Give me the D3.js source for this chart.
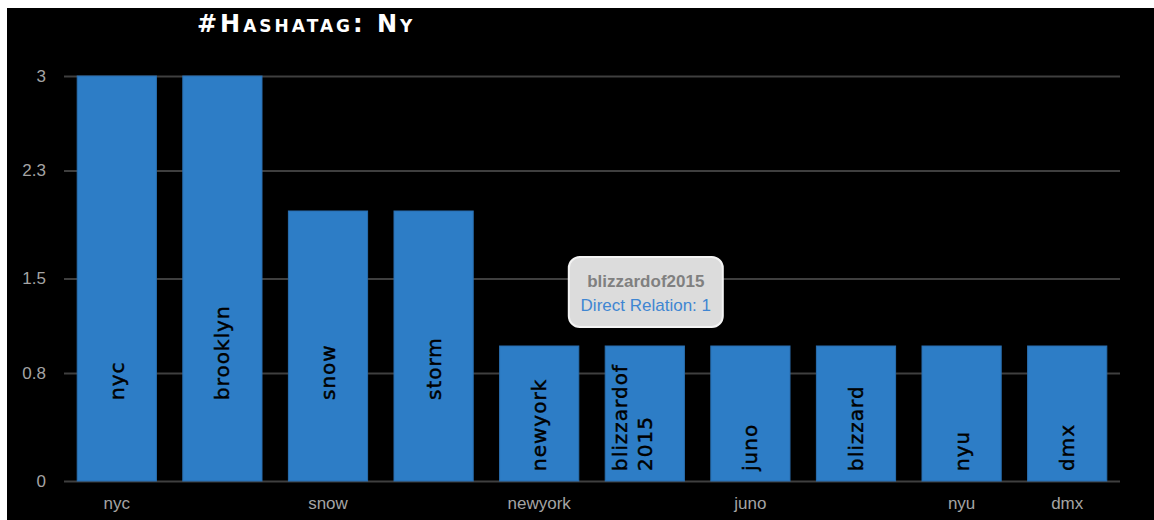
<!DOCTYPE html>
<html>
<head>
<meta charset="utf-8">
<script src="https://cdn.jsdelivr.net/npm/d3@7"></script>
<style>
  html, body { margin: 0; padding: 0; background: #fff; }
  svg { position: absolute; left: 7px; top: 8px; display: block; }
</style>
</head>
<body>
<script>
// Hashtag relations for #ny
const tags = ["nyc", "brooklyn", "snow", "storm", "newyork", "blizzardof2015", "juno", "blizzard", "nyu", "dmx"];
const relations = [3, 3, 2, 2, 1, 1, 1, 1, 1, 1];
// Labels drawn inside each bar (long tags broken onto two lines)
const barLabels = [["nyc"], ["brooklyn"], ["snow"], ["storm"], ["newyork"], ["blizzardof", "2015"], ["juno"], ["blizzard"], ["nyu"], ["dmx"]];
// Category axis only shows some of the tags
const axisTags = ["nyc", "snow", "newyork", "juno", "nyu", "dmx"];
const yTicks = [0, 0.8, 1.5, 2.3, 3];
const titleText = "#Hashatag: Ny";
const hovered = "blizzardof2015";

const W = 1147, H = 512;
const ox = 7, oy = 8; // svg offset on the page
const plot = { left: 64 - ox, right: 1120 - ox, top: 76 - oy, bottom: 481 - oy };

const svg = d3.select("body").append("svg").attr("width", W).attr("height", H);
svg.append("rect").attr("width", W).attr("height", H).attr("fill", "#000");

const x = d3.scaleBand().domain(tags).range([plot.left, plot.right])
  .paddingInner(0.25).paddingOuter(0.125);
const y = d3.scaleLinear().domain([0, 3]).range([plot.bottom, plot.top]);

// Grid lines + y labels
const yAxis = d3.axisLeft(y).tickValues(yTicks)
  .tickSize(-(plot.right - plot.left)).tickPadding(18)
  .tickFormat(d => String(d));
svg.append("g").attr("transform", `translate(${plot.left},0)`).call(yAxis)
  .call(g => g.select(".domain").remove())
  .call(g => g.selectAll("line").attr("stroke", "#3f3f3f").attr("stroke-width", 2))
  .call(g => g.selectAll("text").attr("fill", "#a4a4a4")
    .style("font", "17px 'Liberation Sans', Arial, sans-serif"));

// Bars
svg.append("g").selectAll("rect").data(tags).join("rect")
  .attr("x", d => x(d))
  .attr("width", x.bandwidth())
  .attr("y", (d, i) => y(relations[i]))
  .attr("height", (d, i) => y(0) - y(relations[i]))
  .attr("fill", "#2d7dc6")
  .attr("stroke", "#2a6fb0").attr("stroke-width", 1);

// Rotated labels inside bars
const lab = svg.append("g").selectAll("text").data(tags).join("text")
  .attr("transform", (d, i) => {
    const bottom = relations[i] > 1 ? y(0.6) : y(0) - 10;
    const cx = x(d) + x.bandwidth() / 2;
    return `translate(${cx},${bottom}) rotate(-90)`;
  })
  .attr("text-anchor", "start")
  .attr("fill", "#000")
  .attr("stroke", "#000").attr("stroke-width", 0.45)
  .style("font", "20px 'DejaVu Sans', Verdana, sans-serif")
  .style("letter-spacing", "1px");
lab.each(function (d, i) {
  const lines = barLabels[i];
  const t = d3.select(this);
  const lh = 25;
  lines.forEach((ln, k) => {
    t.append("tspan").attr("x", 0)
      .attr("dy", k === 0 ? (7 - (lines.length - 1) * lh) : lh)
      .text(ln);
  });
});

// Category axis labels
svg.append("g").selectAll("text").data(axisTags).join("text")
  .attr("x", d => x(d) + x.bandwidth() / 2)
  .attr("y", 509 - oy)
  .attr("text-anchor", "middle")
  .attr("fill", "#a4a4a4")
  .style("font", "17px 'Liberation Sans', Arial, sans-serif")
  .text(d => d);

// Title
svg.append("text")
  .attr("x", 197 - ox).attr("y", 32 - oy)
  .attr("fill", "#fff")
  .style("font", "bold 24px 'DejaVu Sans', Verdana, sans-serif")
  .style("font-variant", "small-caps")
  .style("letter-spacing", "3px")
  .text(titleText);

// Tooltip for the hovered bar
const hi = tags.indexOf(hovered);
const tcx = x(hovered) + x.bandwidth() / 2 + 1;
const tw = 154, th = 70;
const tBottom = y(relations[hi]) - 19;
const tip = svg.append("g").attr("transform", `translate(${tcx - tw / 2},${tBottom - th})`);
tip.append("rect").attr("width", tw).attr("height", th).attr("rx", 11)
  .attr("fill", "#dcdcdc")
  .attr("stroke", "#f4f4f4").attr("stroke-width", 2);
tip.append("text").attr("x", tw / 2).attr("y", 30).attr("text-anchor", "middle")
  .attr("fill", "#808080")
  .style("font", "bold 17px 'Liberation Sans', Arial, sans-serif")
  .text(hovered);
tip.append("text").attr("x", tw / 2).attr("y", 54).attr("text-anchor", "middle")
  .attr("fill", "#3f86d2")
  .style("font", "17px 'Liberation Sans', Arial, sans-serif")
  .text("Direct Relation: " + relations[hi]);
</script>
</body>
</html>
